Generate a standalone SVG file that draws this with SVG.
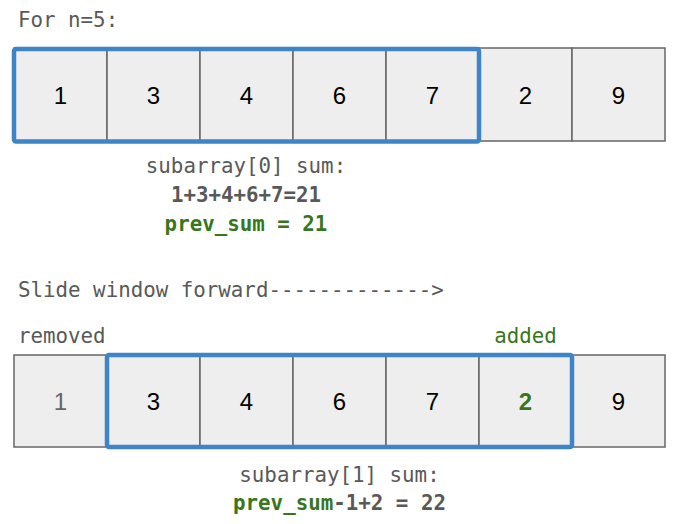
<svg xmlns="http://www.w3.org/2000/svg" width="679" height="524" viewBox="0 0 679 524">
<style>
.cell{fill:#eeeeee;stroke:#666666;stroke-width:1.5}
.win{fill:none;stroke:#3d85c6;stroke-width:4.5;stroke-linejoin:round}
.num{font-family:"Liberation Sans",Arial,sans-serif;font-size:24px;fill:#000;text-anchor:middle}
.mono{font-family:"DejaVu Sans Mono","Liberation Mono",monospace;font-size:20.8px;fill:#595959}
.c{text-anchor:middle}
.b{font-weight:bold}
.g{fill:#38761d}
</style>
<rect width="679" height="524" fill="#ffffff"/>
<text class="mono" x="18" y="27">For n=5:</text>
<g id="row1">
  <g id="r1c1"><rect class="cell" x="14" y="48" width="93" height="93"/><text class="num" x="60.5" y="104">1</text></g>
  <g id="r1c2"><rect class="cell" x="107" y="48" width="93" height="93"/><text class="num" x="153.5" y="104">3</text></g>
  <g id="r1c3"><rect class="cell" x="200" y="48" width="93" height="93"/><text class="num" x="246.5" y="104">4</text></g>
  <g id="r1c4"><rect class="cell" x="293" y="48" width="93" height="93"/><text class="num" x="339.5" y="104">6</text></g>
  <g id="r1c5"><rect class="cell" x="386" y="48" width="93" height="93"/><text class="num" x="432.5" y="104">7</text></g>
  <g id="r1c6"><rect class="cell" x="479" y="48" width="93" height="93"/><text class="num" x="525.5" y="104">2</text></g>
  <g id="r1c7"><rect class="cell" x="572" y="48" width="93" height="93"/><text class="num" x="618.5" y="104">9</text></g>
  <rect id="win1" class="win" x="14" y="49" width="465" height="92.5" rx="2"/>
</g>
<g id="sum1">
  <text class="mono c" x="246" y="173">subarray[0] sum:</text>
  <text class="mono c b" x="246" y="202">1+3+4+6+7=21</text>
  <text class="mono c b g" x="246" y="231">prev_sum = 21</text>
</g>
<text class="mono" x="18" y="297">Slide window forward-------------&gt;</text>
<text class="mono" x="18" y="343">removed</text>
<text class="mono c g" x="525.5" y="343">added</text>
<g id="row2">
  <g id="r2c1"><rect class="cell" x="14" y="355" width="93" height="92"/><text class="num" x="60.5" y="410" style="fill:#666666">1</text></g>
  <g id="r2c2"><rect class="cell" x="107" y="355" width="93" height="92"/><text class="num" x="153.5" y="410">3</text></g>
  <g id="r2c3"><rect class="cell" x="200" y="355" width="93" height="92"/><text class="num" x="246.5" y="410">4</text></g>
  <g id="r2c4"><rect class="cell" x="293" y="355" width="93" height="92"/><text class="num" x="339.5" y="410">6</text></g>
  <g id="r2c5"><rect class="cell" x="386" y="355" width="93" height="92"/><text class="num" x="432.5" y="410">7</text></g>
  <g id="r2c6"><rect class="cell" x="479" y="355" width="93" height="92"/><text class="num b" x="525.5" y="410" style="fill:#38761d">2</text></g>
  <g id="r2c7"><rect class="cell" x="572" y="355" width="93" height="92"/><text class="num" x="618.5" y="410">9</text></g>
  <rect id="win2" class="win" x="107" y="355" width="465" height="92" rx="2"/>
</g>
<g id="sum2">
  <text class="mono c" x="339.5" y="482">subarray[1] sum:</text>
  <text class="mono c b" x="339.5" y="510"><tspan class="g">prev_sum</tspan>-1+2 = 22</text>
</g>
<g id="connectors"></g>
</svg>
